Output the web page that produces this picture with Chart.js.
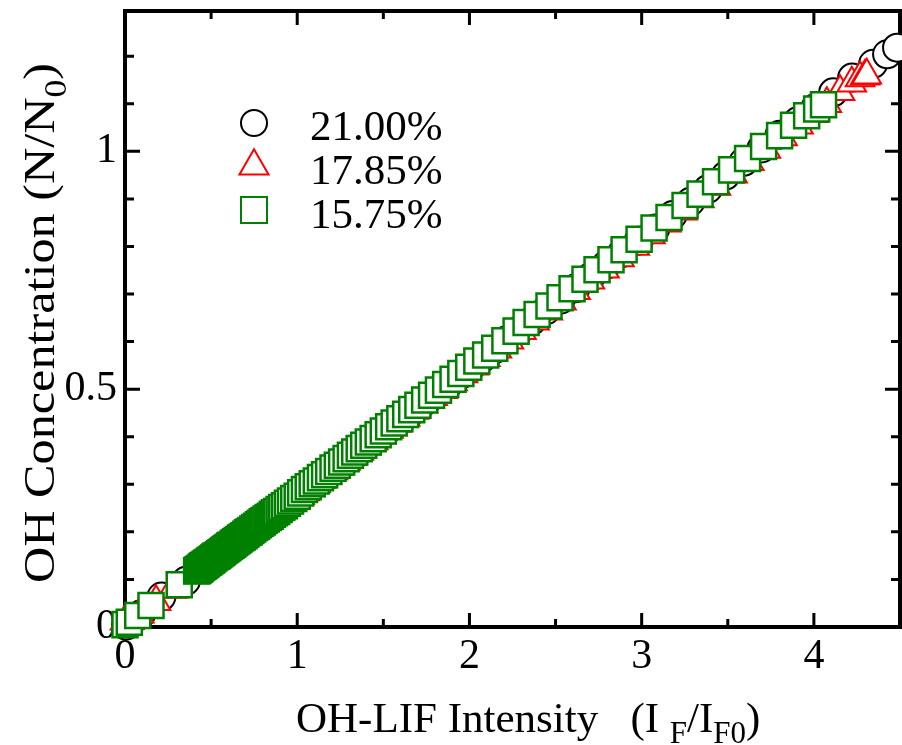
<!DOCTYPE html>
<html>
<head>
<meta charset="utf-8">
<script src="https://cdn.jsdelivr.net/npm/chart.js@4.4.1/dist/chart.umd.min.js"></script>
<style>
  html, body { margin: 0; padding: 0; background: #fff; }
  #wrap { width: 902px; height: 745px; }
</style>
</head>
<body>
<div id="wrap"><canvas id="chart" width="902" height="745"></canvas></div>
<script>
// O2 fraction of each series
const seriesLabels = ["21.00%", "17.85%", "15.75%"];

// axis ticks
const xTicks = [0, 1, 2, 3, 4];
const yTicks = [0, 0.5, 1];
const xMinorStep = 0.5;
const yMinorStep = 0.1;

// 21.00 % : OH-LIF intensity (I_F/I_F0) and OH concentration (N/N0)
const lif21 = [0.006, 0.035, 0.093, 0.212, 0.354, 0.460, 0.475, 0.489, 0.504, 0.518,
  0.533, 0.547, 0.563, 0.578, 0.594, 0.610, 0.626, 0.644, 0.661, 0.680,
  0.698, 0.717, 0.737, 0.757, 0.777, 0.798, 0.821, 0.843, 0.866, 0.890,
  0.914, 0.940, 0.966, 0.993, 1.021, 1.050, 1.080, 1.111, 1.143, 1.175,
  1.209, 1.244, 1.280, 1.317, 1.354, 1.394, 1.434, 1.477, 1.521, 1.568,
  1.616, 1.666, 1.719, 1.773, 1.829, 1.887, 1.947, 2.009, 2.074, 2.142,
  2.214, 2.287, 2.364, 2.446, 2.529, 2.616, 2.703, 2.793, 2.886, 2.983,
  3.080, 3.180, 3.283, 3.385, 3.487, 3.592, 3.696, 3.801, 3.905, 4.008,
  4.112, 4.222, 4.344, 4.425, 4.483];
const conc21 = [0.003, 0.011, 0.027, 0.064, 0.097, 0.126, 0.130, 0.134, 0.137, 0.141,
  0.145, 0.149, 0.153, 0.158, 0.162, 0.166, 0.171, 0.176, 0.180, 0.185,
  0.190, 0.196, 0.201, 0.206, 0.212, 0.218, 0.224, 0.230, 0.236, 0.243,
  0.249, 0.256, 0.263, 0.271, 0.278, 0.286, 0.294, 0.303, 0.311, 0.320,
  0.329, 0.339, 0.349, 0.359, 0.369, 0.380, 0.391, 0.402, 0.414, 0.427,
  0.440, 0.454, 0.468, 0.483, 0.498, 0.514, 0.530, 0.547, 0.565, 0.583,
  0.603, 0.623, 0.644, 0.666, 0.688, 0.712, 0.736, 0.761, 0.786, 0.812,
  0.838, 0.866, 0.894, 0.921, 0.949, 0.978, 1.006, 1.035, 1.063, 1.091,
  1.124, 1.155, 1.184, 1.204, 1.218];

// 17.85 %
const lif1785 = [0.000, 0.025, 0.083, 0.180, 0.276, 0.431, 0.443, 0.454, 0.467, 0.479,
  0.492, 0.506, 0.519, 0.534, 0.548, 0.564, 0.579, 0.595, 0.612, 0.629,
  0.647, 0.665, 0.683, 0.703, 0.722, 0.742, 0.764, 0.785, 0.807, 0.830,
  0.854, 0.878, 0.903, 0.929, 0.956, 0.984, 1.013, 1.043, 1.074, 1.106,
  1.139, 1.173, 1.207, 1.243, 1.280, 1.318, 1.358, 1.399, 1.441, 1.485,
  1.530, 1.577, 1.627, 1.678, 1.731, 1.786, 1.843, 1.902, 1.963, 2.026,
  2.092, 2.159, 2.229, 2.302, 2.378, 2.455, 2.534, 2.616, 2.699, 2.784,
  2.871, 2.960, 3.051, 3.143, 3.238, 3.335, 3.431, 3.528, 3.625, 3.721,
  3.818, 3.911, 3.998, 4.075, 4.152, 4.220, 4.268, 4.297, 4.307];
const conc1785 = [0.012, 0.013, 0.027, 0.053, 0.079, 0.119, 0.123, 0.126, 0.129, 0.132,
  0.136, 0.139, 0.143, 0.147, 0.151, 0.155, 0.159, 0.164, 0.168, 0.173,
  0.177, 0.182, 0.187, 0.192, 0.198, 0.203, 0.209, 0.215, 0.221, 0.227,
  0.233, 0.240, 0.246, 0.253, 0.261, 0.268, 0.276, 0.284, 0.292, 0.301,
  0.310, 0.319, 0.328, 0.338, 0.348, 0.358, 0.369, 0.380, 0.391, 0.403,
  0.415, 0.428, 0.441, 0.455, 0.469, 0.484, 0.499, 0.515, 0.532, 0.548,
  0.566, 0.584, 0.603, 0.623, 0.643, 0.664, 0.685, 0.707, 0.729, 0.752,
  0.776, 0.800, 0.824, 0.849, 0.874, 0.900, 0.926, 0.952, 0.978, 1.004,
  1.030, 1.055, 1.079, 1.100, 1.125, 1.143, 1.154, 1.158, 1.160];

// 15.75 %
const lif1575 = [0.000, 0.025, 0.074, 0.151, 0.315,
  0.416, 0.420, 0.424, 0.428, 0.432, 0.436, 0.441, 0.446, 0.451, 0.456,
  0.461, 0.466, 0.472, 0.478, 0.484, 0.490, 0.496, 0.502, 0.508, 0.515,
  0.522, 0.529, 0.536, 0.543, 0.550, 0.558, 0.566, 0.574, 0.582, 0.590,
  0.598, 0.607, 0.616, 0.625, 0.634, 0.643, 0.652, 0.661, 0.671, 0.681,
  0.691, 0.701, 0.711, 0.721, 0.731, 0.742, 0.753, 0.764, 0.775, 0.786,
  0.797, 0.808, 0.820, 0.832, 0.844, 0.856, 0.868, 0.881, 0.895, 0.910,
  0.926, 0.943, 0.961, 0.980, 1.000, 1.020,
  1.042, 1.064, 1.087, 1.111, 1.135, 1.159, 1.183, 1.208, 1.233, 1.258,
  1.284, 1.309, 1.334, 1.360, 1.386, 1.413, 1.441, 1.470, 1.500, 1.531,
  1.563, 1.596, 1.630, 1.665, 1.701, 1.740, 1.780, 1.820, 1.862, 1.905,
  1.950, 1.996, 2.043, 2.094, 2.147, 2.206,
  2.271, 2.329, 2.393, 2.462, 2.526, 2.596, 2.671, 2.741, 2.822, 2.898,
  2.985, 3.072, 3.159, 3.252, 3.339, 3.429, 3.522, 3.615, 3.708, 3.801,
  3.882, 3.958, 4.016, 4.056];
const conc1575 = [0.005, 0.010, 0.024, 0.045, 0.089,
  0.118, 0.119, 0.120, 0.121, 0.122, 0.123, 0.125, 0.126, 0.128, 0.129,
  0.130, 0.132, 0.133, 0.135, 0.136, 0.138, 0.140, 0.141, 0.143, 0.145,
  0.147, 0.149, 0.150, 0.152, 0.154, 0.156, 0.158, 0.161, 0.163, 0.165,
  0.167, 0.170, 0.172, 0.174, 0.177, 0.179, 0.182, 0.184, 0.187, 0.189,
  0.192, 0.195, 0.198, 0.200, 0.203, 0.206, 0.209, 0.212, 0.215, 0.218,
  0.221, 0.224, 0.227, 0.230, 0.233, 0.237, 0.240, 0.243, 0.247, 0.251,
  0.255, 0.260, 0.265, 0.270, 0.275, 0.282,
  0.289, 0.295, 0.301, 0.307, 0.314, 0.320, 0.327, 0.334, 0.340, 0.347,
  0.354, 0.361, 0.368, 0.375, 0.382, 0.389, 0.396, 0.404, 0.412, 0.421,
  0.429, 0.438, 0.447, 0.457, 0.466, 0.477, 0.487, 0.498, 0.510, 0.521,
  0.533, 0.546, 0.559, 0.572, 0.586, 0.602,
  0.622, 0.640, 0.657, 0.675, 0.692, 0.711, 0.731, 0.751, 0.772, 0.793,
  0.815, 0.839, 0.861, 0.886, 0.910, 0.936, 0.961, 0.985, 1.010, 1.033,
  1.055, 1.075, 1.089, 1.098];

const SERIF = "'Liberation Serif', 'Times New Roman', serif";
const colors = ["#000000", "#ff0000", "#008000"];
const styles = ["circle", "triangle", "rect"];
const radii = [14, 16.5, 17.7];
const borders = [2, 2, 2.5];

function pts(xs, ys) {
  return xs.map((x, i) => ({ x: x, y: ys[i] }));
}

// text made of normal and subscript pieces, drawn left to right from (x, y)
function drawRich(ctx, parts, x, y, size) {
  const subSize = Math.round(size * 0.72);
  parts.forEach(function (p) {
    ctx.font = (p[1] ? subSize : size) + "px " + SERIF;
    ctx.fillText(p[0], x, p[1] ? y + Math.round(size * 0.26) : y);
    x += ctx.measureText(p[0]).width;
  });
  return x;
}
function richWidth(ctx, parts, size) {
  const subSize = Math.round(size * 0.72);
  let w = 0;
  parts.forEach(function (p) {
    ctx.font = (p[1] ? subSize : size) + "px " + SERIF;
    w += ctx.measureText(p[0]).width;
  });
  return w;
}

// frame with inward ticks on all four sides, titles and legend
const framePlugin = {
  id: "frame",
  beforeDatasetsDraw(chart) {
    const { ctx, chartArea: a, scales } = chart;
    const sx = scales.x, sy = scales.y;
    ctx.save();
    ctx.strokeStyle = "#000";
    ctx.lineWidth = 3;
    ctx.beginPath();
    for (let v = sx.min; v <= sx.max + 1e-9; v += xMinorStep) {
      const px = sx.getPixelForValue(v);
      const len = xTicks.indexOf(Math.round(v * 10) / 10) >= 0 ? 14 : 8;
      ctx.moveTo(px, a.bottom); ctx.lineTo(px, a.bottom - len);
      ctx.moveTo(px, a.top); ctx.lineTo(px, a.top + len);
    }
    for (let v = sy.min; v <= sy.max + 1e-9; v += yMinorStep) {
      const py = sy.getPixelForValue(v);
      const len = yTicks.indexOf(Math.round(v * 10) / 10) >= 0 ? 15 : 9;
      ctx.moveTo(a.left, py); ctx.lineTo(a.left + len, py);
      ctx.moveTo(a.right, py); ctx.lineTo(a.right - len, py);
    }
    ctx.stroke();
    ctx.lineWidth = 4;
    ctx.strokeRect(a.left, a.top, a.right - a.left, a.bottom - a.top);
    ctx.restore();
  },
  afterDraw(chart) {
    const ctx = chart.ctx;
    ctx.save();
    ctx.fillStyle = "#000";
    ctx.textBaseline = "alphabetic";
    ctx.textAlign = "left";
    // x axis title
    drawRich(ctx, [["OH-LIF Intensity   (I ", false], ["F", true], ["/I", false], ["F0", true], [")", false]], 296, 732, 43);
    // y axis title, rotated and a little stretched along its length
    const yParts = [["OH Concentration (N/N", false], ["0", true], [")", false]];
    const w = richWidth(ctx, yParts, 45);
    const span = 520;
    ctx.translate(54, 323 + span / 2);
    ctx.rotate(-Math.PI / 2);
    ctx.scale(span / w, 1);
    drawRich(ctx, yParts, 0, 0, 45);
    ctx.restore();

    // legend
    ctx.save();
    const lx = 254, ly = [123, 166, 210], tx = 310, ty = [140, 184, 228];
    seriesLabels.forEach(function (label, i) {
      ctx.strokeStyle = colors[i];
      ctx.fillStyle = "#fff";
      ctx.lineWidth = 2;
      ctx.beginPath();
      if (styles[i] === "circle") {
        ctx.arc(lx, ly[i], 13, 0, Math.PI * 2);
      } else if (styles[i] === "triangle") {
        const r = 16.8;
        ctx.moveTo(lx, ly[i] - r);
        ctx.lineTo(lx + r * Math.sqrt(3) / 2, ly[i] + r / 2);
        ctx.lineTo(lx - r * Math.sqrt(3) / 2, ly[i] + r / 2);
        ctx.closePath();
      } else {
        ctx.rect(lx - 13, ly[i] - 13, 26, 26);
      }
      ctx.fill();
      ctx.stroke();
      ctx.fillStyle = "#000";
      ctx.font = "43px " + SERIF;
      ctx.fillText(label, tx, ty[i]);
    });
    ctx.restore();
  }
};

const datasets = [
  pts(lif21, conc21),
  pts(lif1785, conc1785),
  pts(lif1575, conc1575)
].map(function (data, i) {
  return {
    label: seriesLabels[i],
    data: data,
    order: 3 - i,
    showLine: false,
    clip: false,
    pointStyle: styles[i],
    pointRadius: radii[i],
    pointHoverRadius: radii[i],
    pointBorderWidth: borders[i],
    pointBorderColor: colors[i],
    pointBackgroundColor: "#ffffff",
    borderColor: colors[i],
    backgroundColor: "#ffffff"
  };
});

const tickFont = { family: SERIF, size: 42 };

new Chart(document.getElementById("chart"), {
  type: "scatter",
  data: { datasets: datasets },
  options: {
    responsive: false,
    animation: false,
    events: [],
    layout: { autoPadding: false, padding: { top: 11, right: 2, left: 0, bottom: 0 } },
    plugins: { legend: { display: false }, tooltip: { enabled: false } },
    scales: {
      x: {
        type: "linear",
        min: 0,
        max: 4.5,
        afterFit: function (s) { s.height = 118; s.paddingLeft = 0; s.paddingRight = 0; },
        afterBuildTicks: function (s) { s.ticks = xTicks.map(v => ({ value: v })); },
        grid: { display: false, drawTicks: false },
        border: { display: false },
        ticks: { color: "#000", font: tickFont, padding: 5, maxRotation: 0, minRotation: 0,
          callback: v => String(v) }
      },
      y: {
        type: "linear",
        min: 0,
        max: 1.295,
        afterFit: function (s) { s.width = 125; s.paddingTop = 0; s.paddingBottom = 0; },
        afterBuildTicks: function (s) { s.ticks = yTicks.map(v => ({ value: v })); },
        grid: { display: false, drawTicks: false },
        border: { display: false },
        ticks: { color: "#000", font: tickFont, padding: 8, callback: v => String(v) }
      }
    }
  },
  plugins: [framePlugin]
});
</script>
</body>
</html>
